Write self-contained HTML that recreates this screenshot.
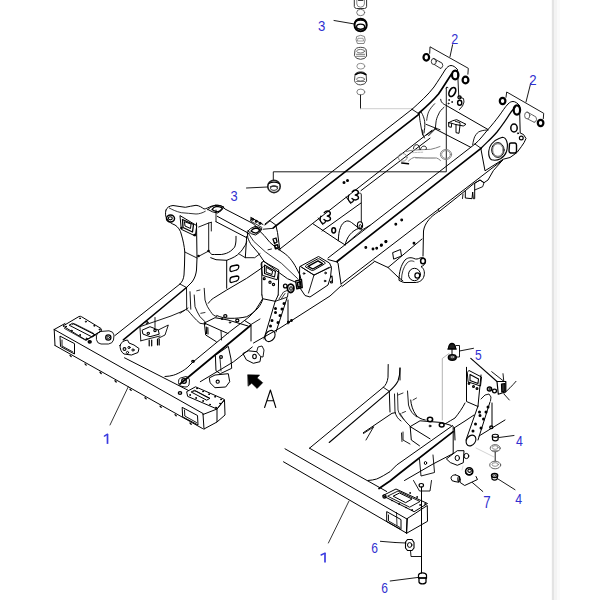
<!DOCTYPE html>
<html><head><meta charset="utf-8"><style>
html,body{margin:0;padding:0;background:#fff;width:600px;height:600px;overflow:hidden}
svg{display:block}
text{font-family:"Liberation Sans",sans-serif}
</style></head><body>
<svg width="600" height="600" viewBox="0 0 600 600" stroke-linecap="round" stroke-linejoin="round">
<rect x="0" y="0" width="600" height="600" fill="#fff"/>
<rect x="551.8" y="0" width="2.2" height="600" fill="#e3e3e3"/>
<rect x="554" y="0" width="3" height="600" fill="#f3f3f3"/>
<rect x="557" y="0" width="3" height="600" fill="#fafafa"/>
<path d="M354.3 0 L354.3 6.5 Q354.5 8.3 356.5 8.5 L364.5 8.5 Q366.6 8.3 366.6 6.5 L366.6 0" stroke="#333" stroke-width="1.0" fill="none" />
<path d="M356.8 0 L356.8 4 Q357 7 360.6 7.2 Q364.2 7 364.4 4 L364.4 0" stroke="#666" stroke-width="0.8" fill="none" />
<path d="M358.5 0 L362.8 0" stroke="#000" stroke-width="1.4" fill="none" />
<ellipse cx="360.7" cy="12.5" rx="4.0" ry="3.2" stroke="#555" stroke-width="0.8" fill="none"/>
<ellipse cx="360.6" cy="25" rx="6.1" ry="6.3" stroke="#000" stroke-width="2.0" fill="none"/>
<ellipse cx="360.6" cy="26.8" rx="4.0" ry="2.6" stroke="#000" stroke-width="1.2" fill="none"/>
<path d="M355.5 21.5 Q360.6 18.7 365.7 21.5" stroke="#000" stroke-width="1.2" fill="none" />
<path d="M356.5 28 Q360.6 30.5 364.7 28" stroke="#000" stroke-width="0.8" fill="none" />
<path d="M334 20.5 L354.5 24" stroke="#000" stroke-width="0.9" fill="none" />
<path d="M357 36.5 L360.7 35.3 L364.4 36.5 L365.2 40 L364 43.5 L357.4 43.5 L356.2 40 Z" stroke="#666" stroke-width="0.8" fill="none" />
<path d="M358.3 38.3 L363 38.3 L363.6 41 L357.8 41 Z" stroke="#777" stroke-width="0.7" fill="none" />
<path d="M355 50 Q355.5 47.5 360.6 47.3 Q365.7 47.5 366.2 50 L366.6 56 Q365.5 59.2 360.6 59.3 Q355.7 59.2 354.6 56 Z" stroke="#444" stroke-width="1.0" fill="none" />
<ellipse cx="360.6" cy="51.2" rx="4.0" ry="1.8" stroke="#555" stroke-width="0.8" fill="none"/>
<path d="M356.5 54.3 L364.7 54.3 M356.5 56.3 L364.7 56.3" stroke="#555" stroke-width="0.8" fill="none" />
<ellipse cx="360.8" cy="66.2" rx="4.0" ry="2.9" stroke="#777" stroke-width="0.8" fill="none"/>
<path d="M355 75 Q355.5 72 360.6 71.8 Q365.7 72 366.2 75 L366.6 81 Q365.5 84.8 360.6 84.9 Q355.7 84.8 354.6 81 Z" stroke="#444" stroke-width="1.0" fill="none" />
<path d="M355.5 74.5 Q360.6 71 365.7 74.5" stroke="#000" stroke-width="1.6" fill="none" />
<ellipse cx="360.6" cy="79.2" rx="4.0" ry="1.8" stroke="#555" stroke-width="0.8" fill="none"/>
<path d="M356.5 81.5 L364.7 81.5" stroke="#555" stroke-width="0.8" fill="none" />
<ellipse cx="360.8" cy="92" rx="4.0" ry="2.9" stroke="#666" stroke-width="0.8" fill="none"/>
<path d="M360.5 95 L360.5 108.7" stroke="#000" stroke-width="0.9" fill="none" />
<path d="M360.5 108.7 L413 108.7" stroke="#c8c8c8" stroke-width="0.9" fill="none" />
<path d="M452.6 44.7 L450 56.7" stroke="#000" stroke-width="0.9" fill="none" />
<path d="M429.7 53.3 L430 46.8 L468.3 68.3 L467.9 74.2" stroke="#000" stroke-width="0.9" fill="none" />
<ellipse cx="426.3" cy="57.3" rx="2.8" ry="3.3" stroke="#000" stroke-width="2.2" fill="none"/>
<path d="M433.3 58.5 L439.8 61.8 M434.3 64.5 L440.5 68.4" stroke="#222" stroke-width="0.9" fill="none" />
<ellipse cx="433.8" cy="61.5" rx="2.5" ry="3.0" stroke="#222" stroke-width="0.9" fill="none"/>
<path d="M439.8 61.8 Q443 62.5 442.8 65.5 Q442.3 68.5 440.5 68.4" stroke="#222" stroke-width="0.9" fill="none" />
<ellipse cx="455.2" cy="75" rx="3.2" ry="4.4" stroke="#000" stroke-width="2.2" fill="none"/>
<ellipse cx="465.5" cy="80" rx="2.9" ry="3.4" stroke="#000" stroke-width="2.2" fill="none"/>
<ellipse cx="452.3" cy="92" rx="2.9" ry="4.8" transform="rotate(28 452.3 92)" stroke="#000" stroke-width="1.7" fill="none"/>
<path d="M530.7 83.3 L526 102" stroke="#000" stroke-width="0.9" fill="none" />
<path d="M506 97.3 L506.7 92 L543.7 113.3 L543.3 118.7" stroke="#000" stroke-width="0.9" fill="none" />
<ellipse cx="502.6" cy="101" rx="2.8" ry="3.2" stroke="#000" stroke-width="2.2" fill="none"/>
<ellipse cx="540.6" cy="123" rx="2.8" ry="3.2" stroke="#000" stroke-width="2.2" fill="none"/>
<path d="M527 112 L533.5 115.5 M527.8 119 L534.2 122.3" stroke="#555" stroke-width="0.9" fill="none" />
<ellipse cx="527.2" cy="115.5" rx="2.6" ry="3.4" stroke="#555" stroke-width="0.9" fill="none"/>
<path d="M533.5 115.5 Q536.8 116.3 536.6 119.3 Q536.2 122.5 534.2 122.3" stroke="#555" stroke-width="0.9" fill="none" />
<ellipse cx="516.9" cy="110" rx="3.2" ry="4.6" stroke="#000" stroke-width="2.2" fill="none"/>
<ellipse cx="514" cy="128" rx="3.2" ry="4.0" stroke="#000" stroke-width="1.5" fill="none"/>
<ellipse cx="521.3" cy="138" rx="1.9" ry="1.9" stroke="#000" stroke-width="1.2" fill="none"/>
<ellipse cx="518" cy="133.3" rx="0.6" ry="0.6" stroke="#000" stroke-width="1.0" fill="none"/>
<path d="M509.5 144 Q509.5 143 511 143 L515 143 Q516.5 143.5 516.5 145 L516.5 151.5 Q516 153 514.5 153 L510.5 153 Q509 152.5 509 151 Z" stroke="#000" stroke-width="1.4" fill="none" />
<path d="M488.7 151.5 C489 148 490 146 491.5 144 C493.5 141.5 496 139.5 499 138.5 L502.5 137.3 C504.5 137.5 506 139 506.8 141.5 C507.8 144.5 507.5 148 506.5 151.5 C505.5 154.5 503.5 157 500.5 158.8 C497.5 160.3 494 160.5 491.5 159.8 C489.5 158.5 488.5 155.5 488.7 151.5 Z" stroke="#000" stroke-width="1.1" fill="none" />
<ellipse cx="497.9" cy="150" rx="6.2" ry="7.4" stroke="#000" stroke-width="1.0" fill="none"/>
<ellipse cx="497.9" cy="150" rx="5.2" ry="6.3" stroke="#444" stroke-width="0.7" fill="none"/>
<path d="M265 224.0 L412 109.3" stroke="#000" stroke-width="1.0" fill="none" />
<path d="M273.3 227.8 L418.5 114.6" stroke="#000" stroke-width="1.7" fill="none" />
<path d="M412 109.3 L418.5 113.5" stroke="#000" stroke-width="0.9" fill="none" />
<path d="M279 249.7 L432 130.3" stroke="#000" stroke-width="1.0" fill="none" />
<path d="M361 190.6 L430 138.2" stroke="#000" stroke-width="1.0" fill="none" />
<path d="M165 376.5 C168 376.3 171 376 173.5 375.2 C176.5 374.3 180 372.5 182.5 371 C185 369.5 187 368 188 367 L193 362 L220 339.7 L230 331.5 L244.5 320.5" stroke="#000" stroke-width="1.0" fill="none" />
<ellipse cx="193" cy="361.3" rx="1.3" ry="1.0" stroke="#000" stroke-width="1.2" fill="none"/>
<path d="M328 258 L475 144" stroke="#000" stroke-width="1.0" fill="none" />
<path d="M180 384 L250.5 325.5" stroke="#000" stroke-width="1.7" fill="none" />
<path d="M337 261.5 L481 148.3" stroke="#000" stroke-width="1.7" fill="none" />
<path d="M475 144 L481 148.3" stroke="#000" stroke-width="0.9" fill="none" />
<path d="M200.3 381.7 L233.7 361.7 L252.3 347" stroke="#000" stroke-width="1.0" fill="none" />
<path d="M341 284 L502.7 160" stroke="#000" stroke-width="1.0" fill="none" />
<path d="M253.5 343 L280 328 L330 296 L341.5 285.5" stroke="#000" stroke-width="1.0" fill="none" />
<path d="M374 261 L388 267.5 L422 239" stroke="#000" stroke-width="1.0" fill="none" />
<path d="M342 286.5 L374 262" stroke="#000" stroke-width="1.0" fill="none" />
<path d="M412 109.3 C420 102 428 95 434 87 C438 81 442 75 445 70 C447 67 449 65.5 451 65.5 C453 65.5 455.5 67 457 69" stroke="#000" stroke-width="1.0" fill="none" />
<path d="M418.5 113.5 C426 107 433 100.5 438.5 94 C443 87.5 447 81 451.5 74" stroke="#000" stroke-width="1.7" fill="none" />
<path d="M419.3 113.7 C419.5 117 419.8 120 420.3 122.5 C421 127 421.8 131 422.7 135" stroke="#000" stroke-width="0.9" fill="none" />
<path d="M421.3 112.3 C423 115 424.3 118.5 424.7 121.7 C425 125.5 424.7 129.5 424 133" stroke="#000" stroke-width="0.9" fill="none" />
<path d="M434.7 103.7 C432 106.5 430 109 428.7 111.7 C427.5 114.5 427 117.5 426.7 120.3" stroke="#000" stroke-width="0.8" fill="none" />
<path d="M426 124.3 C429 125.5 432.5 127 436 128.3 L440 129.7" stroke="#000" stroke-width="0.9" fill="none" />
<path d="M426.7 135 L436 128.3" stroke="#000" stroke-width="0.9" fill="none" />
<path d="M457.5 69.5 L458.8 97 L463.5 98.5 L464 102 L462.5 106 L459.5 109.5" stroke="#000" stroke-width="0.9" fill="none" />
<ellipse cx="459.5" cy="97.3" rx="1.6" ry="1.5" stroke="#000" stroke-width="1.3" fill="none"/>
<ellipse cx="459.7" cy="102.7" rx="2.1" ry="2.5" stroke="#000" stroke-width="1.4" fill="none"/>
<ellipse cx="449" cy="100" rx="0.5" ry="0.5" stroke="#000" stroke-width="0.8" fill="none"/>
<ellipse cx="452" cy="102" rx="0.5" ry="0.5" stroke="#000" stroke-width="0.8" fill="none"/>
<ellipse cx="448.5" cy="103.5" rx="0.5" ry="0.5" stroke="#000" stroke-width="0.8" fill="none"/>
<path d="M446 88 Q446.5 86 448 87.5" stroke="#000" stroke-width="0.9" fill="none" />
<path d="M446.3 88 L446.3 171.8 L273.3 171.8 L273.3 180" stroke="#000" stroke-width="0.9" fill="none" />
<path d="M440.7 99.3 C440.8 101.5 442 103.5 446 105.3 L488 129.5" stroke="#000" stroke-width="1.0" fill="none" />
<path d="M434.7 128.7 L470.7 147.3" stroke="#000" stroke-width="1.0" fill="none" />
<path d="M444 107.3 C441.5 109.5 439.5 111.5 438.7 114 C437 117 436.2 120 436 122 L435.3 128.7" stroke="#000" stroke-width="0.9" fill="none" />
<path d="M472.7 144.7 C473.2 141 474 138.5 474.7 136.7 C476.5 133.5 478 132 480 131.3 C483 130.3 485.5 130 488 130" stroke="#000" stroke-width="0.9" fill="none" />
<path d="M448.7 122.7 L452.7 120.7 L456.7 119.7 L466 124.3 L463.3 126 L460 125.3" stroke="#000" stroke-width="1.0" fill="none" />
<path d="M448.7 122.7 L448.7 126.7 L451.3 127.3 L451.7 123.3 L448.7 122.7" stroke="#000" stroke-width="1.0" fill="none" />
<path d="M451.7 123.3 L456 124.6" stroke="#000" stroke-width="0.9" fill="none" />
<path d="M456 124.6 L456 132.7 L459 133.3 L460 125.3 L456 124.6" stroke="#000" stroke-width="1.0" fill="none" />
<path d="M455.3 121.3 L460 122.7 L460 125.3" stroke="#000" stroke-width="0.9" fill="none" />
<path d="M481 148.3 C486 143 492 138 497 132 C502 125.5 506 120 509 115 C511.5 111 513 109.5 515 107.5" stroke="#000" stroke-width="1.3" fill="none" />
<path d="M475 144 C480 140 484 134 488 129.5 C492 125 496 120 499 116 C502 112 505 107 508 104 C510 102 511.5 101.5 513 101.5 C515 101.5 517.5 103 519.5 105.5" stroke="#000" stroke-width="1.0" fill="none" />
<path d="M519.5 105.8 L520.2 133 L523.5 134.5 L526 138.5 L524 142.7 L521.3 146.7 L517 152.5 L510 157.5 L503.3 159.2 L485 170.8 L480.8 148.3" stroke="#000" stroke-width="1.0" fill="none" />
<path d="M166 210 C165 213 165.5 217 167 219 C169 222 172 224 175 225 C178 227 180.5 230 181.5 235 C183 240 184.3 246 184.8 252 L184.5 265 L184 275 C183.5 279 182.5 281.5 180 284" stroke="#000" stroke-width="1.0" fill="none" />
<path d="M166 210 C167 207.5 169 206 173 205.5 C177 205.8 181 207 185.3 207.3 C189 207 192 205.5 196 205.3 C199 205.5 202 207.5 204 209 C206 209 209 207 212 206 L217.3 205.3 C220 205.3 222.5 206 225 209 L253 223.5 L260 230" stroke="#000" stroke-width="1.0" fill="none" />
<path d="M169.3 208 C172 209.5 176 211.5 181.3 212.7 C186 213.3 191 213.3 196 214 C199 214 202.5 213 205.3 211.3" stroke="#000" stroke-width="0.8" fill="none" />
<ellipse cx="170.5" cy="218.5" rx="4.0" ry="3.5" stroke="#000" stroke-width="1.5" fill="none"/>
<ellipse cx="170.3" cy="218.3" rx="2.0" ry="1.6" stroke="#000" stroke-width="1.1" fill="none"/>
<path d="M180 216 L181.3 229.3 L195.3 236 L196.7 226 Z" stroke="#000" stroke-width="1.0" fill="none" />
<path d="M182.5 219.5 L183 227.5 L192.5 232 L193.5 224.5 Z" stroke="#000" stroke-width="1.3" fill="none" />
<path d="M184.5 222 L185 226 L190.5 228.5 L191 224.5 Z" stroke="#000" stroke-width="1.0" fill="none" />
<ellipse cx="181.5" cy="228" rx="0.7" ry="0.7" stroke="#000" stroke-width="1.2" fill="none"/>
<ellipse cx="194.5" cy="235" rx="0.7" ry="0.7" stroke="#000" stroke-width="1.2" fill="none"/>
<path d="M196.5 223 L197 258 L196.5 270 C196 274 195 278 192 282 L186.5 287.5" stroke="#000" stroke-width="1.0" fill="none" />
<path d="M184.8 252 L197 258" stroke="#000" stroke-width="0.9" fill="none" />
<path d="M198.7 227 L208.7 223 L211.3 222.3" stroke="#000" stroke-width="0.9" fill="none" />
<path d="M208.7 223 L208.7 251 M211.3 222.3 L211.3 231" stroke="#000" stroke-width="0.9" fill="none" />
<path d="M198.7 256.3 L208.7 251" stroke="#000" stroke-width="0.9" fill="none" />
<ellipse cx="208.5" cy="251" rx="0.7" ry="0.7" stroke="#000" stroke-width="1.2" fill="none"/>
<ellipse cx="198.5" cy="256" rx="0.7" ry="0.7" stroke="#000" stroke-width="1.2" fill="none"/>
<path d="M207.8 209.5 Q210 207 215.4 205 Q220 205 224 207 Q222 211 217.5 213 Q212.5 212.5 207.8 209.5 Z" stroke="#000" stroke-width="1.0" fill="none" />
<path d="M212 209.5 Q213.5 207 216.5 206.3 Q220 206.5 222.5 208 Q221 210.5 218 211.8 Q214.5 211.3 212 209.5 Z" stroke="#000" stroke-width="1.3" fill="none" />
<path d="M248 231 Q250 228 255 226.5 Q259 226.7 262 229 Q260 233 255.5 235 Q251 234.5 248 231 Z" stroke="#000" stroke-width="1.0" fill="none" />
<path d="M251 231 Q252.5 228.8 255.5 228 Q258.5 228.2 260.3 229.7 Q259 232 256 233.2 Q253 232.8 251 231 Z" stroke="#000" stroke-width="1.3" fill="none" />
<path d="M216 210 L216 221.7" stroke="#000" stroke-width="0.9" fill="none" />
<path d="M217.3 216.3 L249.3 233.7" stroke="#000" stroke-width="1.0" fill="none" />
<path d="M216 221.7 L246.7 237.7" stroke="#000" stroke-width="1.0" fill="none" />
<path d="M208.7 251 C209.5 252.5 211 254 212 254.5 L214.7 254.5 L221.3 254.5 C225 254 228 253 230.7 251 C232.5 249.5 234 248 234.7 247 C235.7 244.5 236 241.5 236 239 L236 236.3" stroke="#000" stroke-width="1.0" fill="none" />
<path d="M210.7 257.7 L216 259.7 L226.7 260.3 C230 259 234 257.5 237.3 255 C240 252.5 242.5 250 244 247 C245.5 245 246.2 243.5 246.7 241.7" stroke="#000" stroke-width="1.0" fill="none" />
<path d="M226.7 260.3 L226.7 288.3" stroke="#000" stroke-width="1.0" fill="none" />
<path d="M246.7 236.3 L245.3 257.7" stroke="#000" stroke-width="1.0" fill="none" />
<path d="M238.7 253.7 L245.3 257.7 L254.7 257.7 L260 253.7" stroke="#000" stroke-width="0.9" fill="none" />
<path d="M230 268.5 Q230 266.5 232 266 L237 265 Q239 265 238.8 267 Q238.5 269.5 236.5 270 L231.5 271.5 Q229.8 271.5 230 269.5 Z" stroke="#000" stroke-width="1.3" fill="none" />
<path d="M230 279.5 Q230 277.5 232 277 L237 276 Q239 276 238.8 278 Q238.5 280.5 236.5 281 L231.5 282.5 Q229.8 282.5 230 280.5 Z" stroke="#000" stroke-width="1.3" fill="none" />
<path d="M247.3 232 L247.8 237.8 C248.8 240.5 250 243 251.3 244.8 L258.3 253 L263 260 C265.5 262.5 267.5 264.3 270 265.8 L279.3 272.8 L287.5 278.7 L295.7 282.2" stroke="#000" stroke-width="1.0" fill="none" />
<path d="M258.3 229.7 L264.2 235.5 L270 242.5 L277 248.3 L284 253 C286.5 255 288.5 256.5 290 258.5 C292.5 261.5 294.5 264.5 296 267.5 L300 275 L301 280" stroke="#000" stroke-width="1.0" fill="none" />
<path d="M248.5 233.5 L253.7 241.3 L265.3 251.8 L281.7 263.5 L297.5 278.5" stroke="#000" stroke-width="0.8" fill="none" />
<path d="M268 249.8 L271.5 249" stroke="#000" stroke-width="0.9" fill="none" />
<path d="M295.7 280.8 L301.5 279.5 L302.3 287.5 L296.8 288.8 Z" stroke="#000" stroke-width="1.3" fill="none" />
<path d="M297.5 282.5 L300.5 281.8 L301 286.5 L298 287.2 Z" stroke="#000" stroke-width="1.5" fill="none" />
<ellipse cx="290.7" cy="288.3" rx="3.2" ry="4.2" stroke="#000" stroke-width="1.8" fill="none"/>
<ellipse cx="291" cy="288.5" rx="1.3" ry="1.8" stroke="#000" stroke-width="1.1" fill="none"/>
<ellipse cx="285.3" cy="286" rx="1.8" ry="1.9" stroke="#000" stroke-width="1.3" fill="none"/>
<path d="M261.8 262.3 L261.8 295" stroke="#000" stroke-width="1.0" fill="none" />
<path d="M278.8 271.7 L278.2 295" stroke="#000" stroke-width="1.0" fill="none" />
<path d="M261.3 263.5 L263 261.2 L278.8 270 L277.2 279.8 L262.8 275.5 Z" stroke="#000" stroke-width="1.0" fill="none" />
<path d="M264.5 265 L275.5 271.5 L274.5 277 L264.5 273.5 Z" stroke="#000" stroke-width="1.1" fill="none" />
<path d="M266.5 267.5 L272.5 271 L272 274.5 L266.5 272.5 Z" stroke="#000" stroke-width="1.0" fill="none" />
<ellipse cx="264.2" cy="278.7" rx="1.0" ry="1.0" stroke="#000" stroke-width="1.2" fill="none"/>
<ellipse cx="270" cy="282.2" rx="1.1" ry="1.1" stroke="#000" stroke-width="1.2" fill="none"/>
<ellipse cx="273.5" cy="284.5" rx="1.1" ry="1.1" stroke="#000" stroke-width="1.2" fill="none"/>
<path d="M270 220.8 L275.8 225 L277.5 232.5 L279.2 245 L280 250" stroke="#000" stroke-width="1.0" fill="none" />
<path d="M265 225 L270 220.8" stroke="#000" stroke-width="1.0" fill="none" />
<path d="M263.3 229.2 L273.3 228.3 L275.8 225" stroke="#000" stroke-width="0.9" fill="none" />
<path d="M273 239 L276 238 L277 242 L274.5 243.5 Z" stroke="#000" stroke-width="1.3" fill="none" />
<path d="M274.5 245.5 L277.5 244.8 L278.3 248 L275.5 248.8 Z" stroke="#000" stroke-width="1.5" fill="none" />
<path d="M54.2 329.5 L203 413.5" stroke="#000" stroke-width="1.0" fill="none" />
<path d="M55 345.5 L202.5 428.5" stroke="#000" stroke-width="1.0" fill="none" />
<path d="M54.2 329.5 L55 345.5" stroke="#000" stroke-width="1.0" fill="none" />
<path d="M54.2 329.5 L65 323.5" stroke="#000" stroke-width="1.0" fill="none" />
<path d="M124.5 357.8 L188.5 390.5" stroke="#000" stroke-width="1.0" fill="none" />
<path d="M203 414.5 L217 409 L217 422 L204 429" stroke="#000" stroke-width="1.0" fill="none" />
<path d="M203 413.8 L204 429" stroke="#000" stroke-width="1.0" fill="none" />
<path d="M217 409 L224.5 400 L225 415 L217 422" stroke="#000" stroke-width="1.0" fill="none" />
<path d="M60 336.5 L60.5 346.5 L74.5 354 L74.5 344 Z" stroke="#000" stroke-width="1.0" fill="none" />
<path d="M62 340 L62 346 L73 352" stroke="#000" stroke-width="0.9" fill="none" />
<path d="M182.5 407.5 L197.5 415.5 L198 425 L183 417 Z" stroke="#000" stroke-width="1.0" fill="none" />
<path d="M184.5 410 L184.8 416 L196.5 422.5" stroke="#000" stroke-width="0.9" fill="none" />
<path d="M63.3 325.8 L79 316.5 Q80.5 316 81.5 316.7 L101 328.5 Q102 330 101 331 L87 339.5 Q86 340 85 339.5 Z" stroke="#000" stroke-width="1.0" fill="none" />
<path d="M69.5 325 L72.5 323.3 L95.5 335 L92.5 336.8 Z" stroke="#000" stroke-width="1.0" fill="none" />
<path d="M72 324.7 Q73 323 75 324 L93.5 333.3 Q94.5 334.5 93 335.5" stroke="#000" stroke-width="0.8" fill="none" />
<ellipse cx="80" cy="318.3" rx="0.5" ry="0.5" stroke="#000" stroke-width="1.0" fill="none"/>
<ellipse cx="85.8" cy="321.7" rx="0.5" ry="0.5" stroke="#000" stroke-width="1.0" fill="none"/>
<ellipse cx="94.2" cy="325.8" rx="0.5" ry="0.5" stroke="#000" stroke-width="1.0" fill="none"/>
<ellipse cx="99.5" cy="329.5" rx="0.5" ry="0.5" stroke="#000" stroke-width="1.0" fill="none"/>
<ellipse cx="71.7" cy="330.8" rx="0.5" ry="0.5" stroke="#000" stroke-width="1.0" fill="none"/>
<ellipse cx="80" cy="335" rx="0.5" ry="0.5" stroke="#000" stroke-width="1.0" fill="none"/>
<ellipse cx="86.7" cy="338.5" rx="0.5" ry="0.5" stroke="#000" stroke-width="1.0" fill="none"/>
<ellipse cx="66" cy="326.5" rx="0.5" ry="0.5" stroke="#000" stroke-width="1.0" fill="none"/>
<path d="M96.5 335.5 Q97 332.5 100 331.5 L109 330.8 Q113.5 331.5 114 335 L113.5 340 Q112.5 343.5 108.5 344 L101 344 Q97 343.5 96.5 340 Z" stroke="#000" stroke-width="0.9" fill="none" />
<ellipse cx="108.3" cy="337.5" rx="2.6" ry="2.6" stroke="#000" stroke-width="1.3" fill="none"/>
<ellipse cx="108.3" cy="337.5" rx="1.2" ry="1.2" stroke="#000" stroke-width="0.9" fill="none"/>
<ellipse cx="89.7" cy="341.8" rx="1.5" ry="1.2" stroke="#000" stroke-width="1.4" fill="#222"/>
<path d="M64.5 328.5 L86 340.5 L101.5 331" stroke="#000" stroke-width="0.8" fill="none" />
<path d="M187 391.5 L195.5 386.8 L224.5 399.5 L217 409 L188 396.5 Z" stroke="#000" stroke-width="1.0" fill="none" />
<path d="M191.5 391.8 L194.5 390.3 L210 398.3 L207 400 Z" stroke="#000" stroke-width="1.0" fill="none" />
<path d="M193.5 391.5 Q194.5 390.5 196 391.3 L208 397.8" stroke="#000" stroke-width="0.8" fill="none" />
<ellipse cx="197" cy="388.5" rx="0.5" ry="0.5" stroke="#000" stroke-width="1.0" fill="none"/>
<ellipse cx="203" cy="391.5" rx="0.5" ry="0.5" stroke="#000" stroke-width="1.0" fill="none"/>
<ellipse cx="209" cy="394.2" rx="0.5" ry="0.5" stroke="#000" stroke-width="1.0" fill="none"/>
<ellipse cx="215" cy="396.8" rx="0.5" ry="0.5" stroke="#000" stroke-width="1.0" fill="none"/>
<ellipse cx="221" cy="399.5" rx="0.5" ry="0.5" stroke="#000" stroke-width="1.0" fill="none"/>
<ellipse cx="220" cy="403.5" rx="0.5" ry="0.5" stroke="#000" stroke-width="1.0" fill="none"/>
<ellipse cx="216" cy="407.5" rx="0.5" ry="0.5" stroke="#000" stroke-width="1.0" fill="none"/>
<ellipse cx="210" cy="404.5" rx="0.5" ry="0.5" stroke="#000" stroke-width="1.0" fill="none"/>
<ellipse cx="203" cy="401" rx="0.5" ry="0.5" stroke="#000" stroke-width="1.0" fill="none"/>
<ellipse cx="196" cy="398" rx="0.5" ry="0.5" stroke="#000" stroke-width="1.0" fill="none"/>
<ellipse cx="190" cy="395" rx="0.5" ry="0.5" stroke="#000" stroke-width="1.0" fill="none"/>
<ellipse cx="180" cy="393" rx="1.6" ry="1.4" stroke="#000" stroke-width="1.4" fill="none"/>
<path d="M178.5 381.5 Q178 379 180.5 378 L186 376.5 Q189 377 189.5 380 L189 385 Q187.5 387.5 185 387 L180.5 386 Q178.5 385 178.5 383 Z" stroke="#000" stroke-width="0.9" fill="none" />
<ellipse cx="184" cy="381" rx="2.3" ry="2.3" stroke="#000" stroke-width="1.3" fill="none"/>
<path d="M70 355.4 L71.2 356.6" stroke="#000" stroke-width="1.3" fill="none" />
<path d="M85 363.9 L86.2 365.1" stroke="#000" stroke-width="1.3" fill="none" />
<path d="M100 372.3 L101.2 373.5" stroke="#000" stroke-width="1.3" fill="none" />
<path d="M115 380.8 L116.2 382.0" stroke="#000" stroke-width="1.3" fill="none" />
<path d="M130 389.2 L131.2 390.4" stroke="#000" stroke-width="1.3" fill="none" />
<path d="M145 397.7 L146.2 398.9" stroke="#000" stroke-width="1.3" fill="none" />
<path d="M160 406.1 L161.2 407.3" stroke="#000" stroke-width="1.3" fill="none" />
<path d="M175 414.6 L176.2 415.8" stroke="#000" stroke-width="1.3" fill="none" />
<path d="M190 423.0 L191.2 424.2" stroke="#000" stroke-width="1.3" fill="none" />
<path d="M110 425 L128.3 386.7" stroke="#000" stroke-width="0.8" fill="none" />
<path d="M115 335.5 L180 284" stroke="#000" stroke-width="1.0" fill="none" />
<path d="M123.3 339.8 L186.5 287.5" stroke="#000" stroke-width="1.5" fill="none" />
<path d="M180 284 L186.5 287.5 L186.7 310" stroke="#000" stroke-width="0.9" fill="none" />
<path d="M140.5 326.5 L171 316 L184.7 310.3" stroke="#000" stroke-width="0.9" fill="none" />
<path d="M140 327.5 L140.8 340.8 M155 317.5 L155 327.5" stroke="#000" stroke-width="0.9" fill="none" />
<path d="M142.5 330 L150 326.7 L158.3 330 L159.2 334.2 L150 336.7 L143.3 334.2 Z" stroke="#000" stroke-width="1.0" fill="none" />
<ellipse cx="148.3" cy="333.3" rx="1.2" ry="1.1" stroke="#000" stroke-width="1.1" fill="none"/>
<ellipse cx="155" cy="330.5" rx="1.2" ry="1.1" stroke="#000" stroke-width="1.1" fill="none"/>
<ellipse cx="147" cy="322.5" rx="1.0" ry="1.3" stroke="#000" stroke-width="1.0" fill="none"/>
<path d="M158.3 330 L168.3 325 L165 335 L158.3 338.3" stroke="#000" stroke-width="0.9" fill="none" />
<path d="M140.8 340.8 L160 336" stroke="#000" stroke-width="0.9" fill="none" />
<path d="M149.2 340 L149.2 345.8 M151.7 340 L151.7 345.8 M157.5 339.2 L157.5 345 M159.2 339.2 L159.2 345" stroke="#000" stroke-width="1.2" fill="none" />
<path d="M120 345.5 C121 342 124 340.5 127.5 340 L129 343 L134 345 L139 348.5 L138 352.5 L131.5 355 L124 354 C121 352 120 349 120 345.5 Z" stroke="#000" stroke-width="1.0" fill="none" />
<ellipse cx="124.5" cy="349" rx="1.4" ry="1.4" stroke="#000" stroke-width="1.1" fill="none"/>
<ellipse cx="129" cy="347.5" rx="1.1" ry="1.1" stroke="#000" stroke-width="1.0" fill="none"/>
<ellipse cx="127.5" cy="352.5" rx="1.1" ry="1.1" stroke="#000" stroke-width="1.0" fill="none"/>
<ellipse cx="133" cy="350" rx="1.1" ry="1.1" stroke="#000" stroke-width="1.0" fill="none"/>
<text transform="translate(321.75 30.50) scale(0.86 1)" text-anchor="middle" font-size="15.36" fill="#3030d0">3</text>
<text transform="translate(454.75 44.00) scale(0.86 1)" text-anchor="middle" font-size="14.64" fill="#3030d0">2</text>
<text transform="translate(532.88 84.75) scale(0.86 1)" text-anchor="middle" font-size="15.36" fill="#3030d0">2</text>
<text transform="translate(234.10 200.50) scale(0.86 1)" text-anchor="middle" font-size="15.00" fill="#3030d0">3</text>
<path d="M107.5 434.1 L107.5 443.9" stroke="#3a3ae0" stroke-width="1.7" fill="none" stroke-linecap="butt"/>
<path d="M104.4 436.1 L107.5 434.2" stroke="#3a3ae0" stroke-width="1.4" fill="none" />
<text transform="translate(478.35 359.80) scale(0.86 1)" text-anchor="middle" font-size="14.00" fill="#3030d0">5</text>
<text transform="translate(519.50 445.50) scale(0.86 1)" text-anchor="middle" font-size="14.29" fill="#3030d0">4</text>
<text transform="translate(486.90 507.70) scale(0.86 1)" text-anchor="middle" font-size="15.57" fill="#3030d0">7</text>
<text transform="translate(518.60 504.20) scale(0.86 1)" text-anchor="middle" font-size="14.29" fill="#3030d0">4</text>
<path d="M325.0 553.0 L325.0 562.5" stroke="#3a3ae0" stroke-width="1.7" fill="none" stroke-linecap="butt"/>
<path d="M321.1 555.0 L325.0 553.1" stroke="#3a3ae0" stroke-width="1.4" fill="none" />
<text transform="translate(374.50 552.80) scale(0.86 1)" text-anchor="middle" font-size="14.00" fill="#3030d0">6</text>
<text transform="translate(384.50 592.80) scale(0.86 1)" text-anchor="middle" font-size="14.00" fill="#3030d0">6</text>
<path d="M285 448.8 L407.3 519.2" stroke="#000" stroke-width="1.0" fill="none" />
<path d="M283.5 461.8 L406.7 533.2" stroke="#000" stroke-width="1.0" fill="none" />
<path d="M309.5 448.2 L386.7 491.5" stroke="#000" stroke-width="1.0" fill="none" />
<path d="M407.3 518.5 L427.3 505.5 L427.5 521.3 L406.7 533.2 Z" stroke="#000" stroke-width="1.0" fill="none" />
<path d="M407.3 518.5 L406.7 533.2" stroke="#000" stroke-width="1.0" fill="none" />
<path d="M386.7 512 L386.7 521.5 L401 529.5 L401 520 Z" stroke="#000" stroke-width="1.0" fill="none" />
<path d="M388.5 515 L388.5 521 L400 527.5" stroke="#000" stroke-width="0.9" fill="none" />
<path d="M396.5 512.5 L397 525.5" stroke="#000" stroke-width="0.8" fill="none" />
<path d="M383 495.5 L396 489 L427.5 503.5 L414.5 511.5 Z" stroke="#000" stroke-width="1.0" fill="none" />
<path d="M388 496 L398 491 L420 501.5 L410 507 Z" stroke="#000" stroke-width="0.9" fill="none" />
<path d="M393.5 496 L399.5 493 L412 499 L406 502.5 Z" stroke="#000" stroke-width="1.0" fill="none" />
<ellipse cx="385" cy="497" rx="0.5" ry="0.5" stroke="#000" stroke-width="0.9" fill="none"/>
<ellipse cx="392" cy="500.5" rx="0.5" ry="0.5" stroke="#000" stroke-width="0.9" fill="none"/>
<ellipse cx="399" cy="504" rx="0.5" ry="0.5" stroke="#000" stroke-width="0.9" fill="none"/>
<ellipse cx="406" cy="507.5" rx="0.5" ry="0.5" stroke="#000" stroke-width="0.9" fill="none"/>
<ellipse cx="412" cy="510" rx="0.5" ry="0.5" stroke="#000" stroke-width="0.9" fill="none"/>
<ellipse cx="420" cy="505" rx="0.5" ry="0.5" stroke="#000" stroke-width="0.9" fill="none"/>
<ellipse cx="425" cy="504" rx="0.5" ry="0.5" stroke="#000" stroke-width="0.9" fill="none"/>
<ellipse cx="410" cy="493" rx="0.5" ry="0.5" stroke="#000" stroke-width="0.9" fill="none"/>
<ellipse cx="417" cy="497" rx="0.5" ry="0.5" stroke="#000" stroke-width="0.9" fill="none"/>
<ellipse cx="384.5" cy="496.5" rx="1.6" ry="1.6" stroke="#000" stroke-width="1.2" fill="none"/>
<path d="M349 501 L328.4 543" stroke="#000" stroke-width="0.8" fill="none" />
<path d="M309.5 448.2 L383.3 387.3 C385.5 385.5 387.5 382 388 377.3 L388.2 364.5" stroke="#000" stroke-width="1.0" fill="none" />
<path d="M329.2 442.5 L389.3 391.3 C392.5 388.5 396 385 398 381 C399.5 377 400 372 400 368" stroke="#000" stroke-width="1.1" fill="none" />
<path d="M383.3 387.3 L389.3 391.3" stroke="#000" stroke-width="0.9" fill="none" />
<path d="M389.3 391.3 L390 412" stroke="#000" stroke-width="1.0" fill="none" />
<path d="M363.3 432.7 L392 413.3 L395.3 412.7" stroke="#000" stroke-width="1.0" fill="none" />
<path d="M373.5 427 L363.5 433.5 M373.5 427 L366 440" stroke="#000" stroke-width="0.9" fill="none" />
<path d="M400 368 L400 380" stroke="#000" stroke-width="1.0" fill="none" />
<path d="M394.5 394 L395 412 C396 416 398 419 401 421" stroke="#000" stroke-width="0.9" fill="none" />
<path d="M397.5 393 L398 410 C399 414 401 417 404 419.5" stroke="#000" stroke-width="0.8" fill="none" />
<path d="M407.5 391 L408.5 405 C410 411 413 414.5 417 417" stroke="#000" stroke-width="0.9" fill="none" />
<path d="M398 395 L403 393" stroke="#000" stroke-width="0.8" fill="none" />
<path d="M402 413 L405.5 411.5" stroke="#000" stroke-width="0.8" fill="none" />
<path d="M413 400 L416.5 398" stroke="#000" stroke-width="0.8" fill="none" />
<path d="M410.2 426.6 L420 420.8 L441.7 422.5 L451 425.4" stroke="#000" stroke-width="1.0" fill="none" />
<path d="M410.2 426.6 L430 438.8" stroke="#000" stroke-width="1.0" fill="none" />
<path d="M410.2 426.6 L411.3 440 L419.5 445.8" stroke="#000" stroke-width="1.0" fill="none" />
<ellipse cx="430" cy="419.5" rx="2.6" ry="2.2" stroke="#000" stroke-width="1.6" fill="none"/>
<ellipse cx="441.7" cy="425" rx="2.4" ry="2.0" stroke="#000" stroke-width="1.5" fill="none"/>
<ellipse cx="430" cy="426" rx="0.9" ry="0.9" stroke="#000" stroke-width="1.0" fill="none"/>
<path d="M403 432 L403 440 L410 444" stroke="#000" stroke-width="0.9" fill="none" />
<path d="M401.5 433 L402 441.5" stroke="#000" stroke-width="0.9" fill="none" />
<path d="M368 480.5 C371 480.3 374 479.8 376.7 479 C379 478 381 477 383.3 475.7 L390 471.7 L396.7 465 L452.5 425.7" stroke="#000" stroke-width="1.0" fill="none" />
<path d="M379 488.5 L390 481 L400 473 L453.2 431.7" stroke="#000" stroke-width="1.7" fill="none" />
<path d="M452.5 425.7 L453.2 426.5 L453.2 453.5" stroke="#000" stroke-width="1.0" fill="none" />
<path d="M404.5 480.5 L433 464 L453.2 453.5" stroke="#000" stroke-width="1.0" fill="none" />
<path d="M419.5 459.5 L421 476 L434.5 472.5 L433 455" stroke="#000" stroke-width="0.9" fill="none" />
<path d="M413.5 480.5 L419.5 491 L430 491 L431.5 480.5" stroke="#000" stroke-width="0.9" fill="none" />
<ellipse cx="425.5" cy="463" rx="1.2" ry="1.5" stroke="#000" stroke-width="1.0" fill="none"/>
<path d="M446.7 458.7 L457.3 450.7 L464 450.7 L463.3 462.7 L457.3 465.3 L450.7 462.7 Z" stroke="#000" stroke-width="1.0" fill="none" />
<ellipse cx="457.3" cy="458" rx="2.2" ry="2.6" stroke="#000" stroke-width="1.0" fill="none"/>
<ellipse cx="466.4" cy="456" rx="2.4" ry="2.6" stroke="#000" stroke-width="1.0" fill="none"/>
<path d="M410.7 400 C411 405 413 411 416 415 C418 417.5 421.5 419.5 425.3 420" stroke="#000" stroke-width="1.0" fill="none" />
<path d="M400 413.3 C402 417 404.5 420.5 407 423 L410.7 426.7" stroke="#000" stroke-width="0.9" fill="none" />
<path d="M466.5 367.3 L466.5 401.5 L478 406.5" stroke="#000" stroke-width="1.0" fill="none" />
<path d="M481 375 L478 406" stroke="#000" stroke-width="1.0" fill="none" />
<path d="M467.5 372 L469 370.5 L481.5 377 L480.5 386 L468.5 382 Z" stroke="#000" stroke-width="1.0" fill="none" />
<path d="M470 374.5 L478.5 379 L478 383.5 L470 380.5 Z" stroke="#000" stroke-width="1.1" fill="none" />
<ellipse cx="469" cy="383.5" rx="0.8" ry="0.8" stroke="#000" stroke-width="1.2" fill="none"/>
<ellipse cx="473.5" cy="386.5" rx="0.9" ry="0.9" stroke="#000" stroke-width="1.2" fill="none"/>
<ellipse cx="477" cy="388.5" rx="0.9" ry="0.9" stroke="#000" stroke-width="1.2" fill="none"/>
<path d="M478 406 L466 440" stroke="#000" stroke-width="1.0" fill="none" />
<path d="M490 402 L478 440" stroke="#000" stroke-width="1.0" fill="none" />
<ellipse cx="479.5" cy="412" rx="0.8" ry="0.8" stroke="#000" stroke-width="1.4" fill="none"/>
<ellipse cx="480" cy="415.5" rx="0.8" ry="0.8" stroke="#000" stroke-width="1.4" fill="none"/>
<ellipse cx="475.5" cy="424" rx="0.8" ry="0.8" stroke="#000" stroke-width="1.4" fill="none"/>
<ellipse cx="488" cy="407" rx="0.8" ry="0.8" stroke="#000" stroke-width="1.4" fill="none"/>
<ellipse cx="486" cy="412" rx="0.8" ry="0.8" stroke="#000" stroke-width="1.4" fill="none"/>
<ellipse cx="483.5" cy="419" rx="0.8" ry="0.8" stroke="#000" stroke-width="1.4" fill="none"/>
<ellipse cx="473" cy="431" rx="0.8" ry="0.8" stroke="#000" stroke-width="1.4" fill="none"/>
<ellipse cx="481" cy="428" rx="0.8" ry="0.8" stroke="#000" stroke-width="1.4" fill="none"/>
<path d="M481 399 L485 395 L489 394 L491 397 L490.5 401" stroke="#000" stroke-width="0.9" fill="none" />
<path d="M492 403 L492 426" stroke="#000" stroke-width="1.0" fill="none" />
<path d="M479 436 L505 420" stroke="#000" stroke-width="1.0" fill="none" />
<path d="M445 424 C449 421.5 452.5 419.5 455 418 C459 413 462.5 408 465 403" stroke="#000" stroke-width="1.0" fill="none" />
<path d="M454 428 L465 421 L474 415" stroke="#000" stroke-width="1.0" fill="none" />
<path d="M454.5 428 L455 440" stroke="#000" stroke-width="1.0" fill="none" />
<ellipse cx="471" cy="440.5" rx="4.4" ry="5.8" transform="rotate(35 471 440.5)" stroke="#000" stroke-width="1.1" fill="none"/>
<path d="M449 353.5 L442.3 358.5 L442.3 420" stroke="#aaa" stroke-width="0.9" fill="none" />
<ellipse cx="491.3" cy="427.3" rx="1.6" ry="1.3" stroke="#000" stroke-width="1.3" fill="none"/>
<path d="M470.8 358.3 L497 381.5" stroke="#000" stroke-width="1.1" fill="none" />
<path d="M491.7 371.7 L503.5 381 M503 373.7 L503.7 380.5" stroke="#000" stroke-width="0.9" fill="none" />
<path d="M497 381.5 L505.8 381.5 L505.8 391.7 L498.3 394.2 Z" stroke="#000" stroke-width="1.2" fill="none" />
<path d="M501.5 384 L505 383.5 L505 391 L501.8 392 Z" stroke="#000" stroke-width="1.2"  fill="#333"/>
<ellipse cx="489.5" cy="389" rx="2.2" ry="2.0" stroke="#000" stroke-width="1.3" fill="none"/>
<ellipse cx="494.5" cy="391" rx="2.0" ry="1.8" stroke="#000" stroke-width="1.3" fill="none"/>
<ellipse cx="489.5" cy="389" rx="0.8" ry="0.7" stroke="#000" stroke-width="0.8" fill="none"/>
<path d="M504 393.3 C508 390 512 386 516 381.3" stroke="#000" stroke-width="0.9" fill="none" />
<path d="M504 394 L509.3 400" stroke="#000" stroke-width="0.9" fill="none" />
<path d="M448.3 349 L448.8 346.5 Q449.5 343.5 452 343.3 Q454.5 343.5 455.3 346.5 L455.8 349 Z" stroke="#000" stroke-width="1.2"  fill="#222"/>
<path d="M447.8 349 L456.3 349" stroke="#000" stroke-width="1.2" fill="none" />
<path d="M452 349 L452 354.5" stroke="#000" stroke-width="1.0" fill="none" />
<ellipse cx="452.3" cy="357.5" rx="4.0" ry="2.8" stroke="#000" stroke-width="1.3" fill="#222"/>
<ellipse cx="452.3" cy="357" rx="1.5" ry="0.8" stroke="#fff" stroke-width="0.6" fill="none"/>
<path d="M456 345.5 L459.5 345.5 L459.5 357 L456.5 357" stroke="#000" stroke-width="0.9" fill="none" />
<path d="M459.5 351 L473.5 348.3" stroke="#000" stroke-width="0.9" fill="none" />
<ellipse cx="495.3" cy="435.8" rx="3.0" ry="1.6" stroke="#000" stroke-width="1.1" fill="none"/>
<path d="M492.3 436 L492.6 439.8 Q495.3 442 498 439.8 L498.3 436" stroke="#000" stroke-width="1.2" fill="none" />
<path d="M499 437.5 L514 435.5" stroke="#000" stroke-width="0.9" fill="none" />
<ellipse cx="495.2" cy="448.2" rx="5.0" ry="3.6" stroke="#555" stroke-width="0.9" fill="none"/>
<ellipse cx="495.2" cy="447.5" rx="3.0" ry="1.8" stroke="#777" stroke-width="0.8" fill="none"/>
<path d="M491.5 450.5 L499 450.5" stroke="#777" stroke-width="0.7" fill="none" />
<path d="M495.2 452 L495.2 461" stroke="#000" stroke-width="0.9" fill="none" />
<ellipse cx="495.2" cy="465" rx="5.5" ry="3.8" stroke="#555" stroke-width="0.9" fill="none"/>
<ellipse cx="495.2" cy="464.5" rx="3.2" ry="1.8" stroke="#777" stroke-width="0.8" fill="none"/>
<path d="M476 448 L494 457" stroke="#c8c8c8" stroke-width="0.8" fill="none" />
<ellipse cx="494.6" cy="475.5" rx="3.0" ry="2.0" stroke="#000" stroke-width="1.6" fill="none"/>
<path d="M491.7 476 L492 479 Q494.6 481.3 497.2 479 L497.5 476" stroke="#000" stroke-width="1.2" fill="none" />
<ellipse cx="494.6" cy="475.3" rx="1.3" ry="0.8" stroke="#333" stroke-width="0.8" fill="none"/>
<path d="M497.7 478.8 L515 489.7" stroke="#000" stroke-width="0.9" fill="none" />
<path d="M459.5 476.5 L460.2 482.5 L464.7 485.5 L477.5 479.5 L476 476.5" stroke="#000" stroke-width="1.0" fill="none" />
<path d="M472.3 482.5 L482.8 491.5" stroke="#000" stroke-width="0.9" fill="none" />
<path d="M455.5 474.8 L459.5 476.5 L458.5 482.2 L454.5 481.5" stroke="#000" stroke-width="1.0" fill="none" />
<path d="M455.5 474.8 Q451 475 451 478.3 Q451.2 481.5 454.5 481.5" stroke="#000" stroke-width="1.0" fill="none" />
<ellipse cx="458.9" cy="479.3" rx="1.2" ry="2.9" stroke="#000" stroke-width="0.9" fill="none"/>
<ellipse cx="469.2" cy="471.3" rx="3.6" ry="3.6" stroke="#000" stroke-width="1.6" fill="none"/>
<ellipse cx="469.6" cy="470.8" rx="1.8" ry="1.6" stroke="#000" stroke-width="1.1" fill="none"/>
<path d="M465.8 473 Q469.2 476.5 472.6 473" stroke="#000" stroke-width="1.2" fill="none" />
<path d="M463 466 L462 470" stroke="#c8c8c8" stroke-width="0.7" fill="none" />
<path d="M421.5 487 L421.5 573" stroke="#000" stroke-width="1.0" fill="none" />
<ellipse cx="421.3" cy="485.3" rx="2.2" ry="1.8" stroke="#000" stroke-width="1.2" fill="none"/>
<path d="M395 542.5 L406 543" stroke="#000" stroke-width="0.9" fill="none" />
<path d="M380.4 541.3 L395 542.5" stroke="#000" stroke-width="0.9" fill="none" />
<path d="M405.5 542 L407.5 539.5 L412 539.5 L414 542.5 L414 548 L412 550.5 L407.5 550.5 L405.5 548 Z" stroke="#000" stroke-width="1.1" fill="none" />
<ellipse cx="409.7" cy="545" rx="2.2" ry="2.4" stroke="#000" stroke-width="1.0" fill="none"/>
<path d="M410.5 550.5 L411 556.5 L421.5 556.5" stroke="#000" stroke-width="0.9" fill="none" />
<path d="M418.5 578 L418.5 575 Q419 572.8 422.5 572.8 Q426 572.8 426.5 575 L426.5 578 Z" stroke="#000" stroke-width="1.2" fill="none" />
<path d="M419 578 L419 582 Q419.5 583.8 422.5 583.8 Q425.5 583.8 426 582 L426 578" stroke="#000" stroke-width="1.3" fill="none" />
<path d="M418.5 578 L426.5 578" stroke="#000" stroke-width="1.3" fill="none" />
<path d="M390.2 581 L418.3 577.4" stroke="#000" stroke-width="0.9" fill="none" />
<path d="M300 266.5 L318.5 256.5 L329.5 263 L331.5 267.5 L330.5 277 L328 285 L310 297 L305 295.5 L300 288 L299.5 281 Z" stroke="#000" stroke-width="1.0" fill="none" />
<path d="M300.5 266.5 L314 275 L331 267" stroke="#000" stroke-width="1.0" fill="none" />
<path d="M314 275 L308.5 293" stroke="#000" stroke-width="0.9" fill="none" />
<path d="M305.5 266.5 Q305.5 265.5 306.5 265 L317.5 259 Q318.5 258.5 319.5 259 L325 262.5 Q325.5 263.5 324.5 264 L313.5 270.3 Q312.5 270.8 311.5 270.3 Z" stroke="#000" stroke-width="1.0" fill="none" />
<path d="M308 266.3 L318 260.8 L322.5 263.6 L312.8 269 Z" stroke="#000" stroke-width="1.4" fill="none" />
<path d="M302 267.5 L314 275.2 L329 267.3" stroke="#000" stroke-width="0.8" fill="none" />
<path d="M328 259.5 L337 262 L338 263 L341 284" stroke="#000" stroke-width="1.0" fill="none" />
<ellipse cx="304" cy="273.5" rx="0.8" ry="0.8" stroke="#000" stroke-width="1.0" fill="none"/>
<ellipse cx="325.5" cy="273" rx="0.8" ry="0.8" stroke="#000" stroke-width="1.0" fill="none"/>
<ellipse cx="325" cy="281" rx="0.8" ry="0.8" stroke="#000" stroke-width="1.0" fill="none"/>
<ellipse cx="331.5" cy="282" rx="1" ry="1" stroke="#000" stroke-width="1.2" fill="none"/>
<path d="M330.5 277 L332 276 L332.5 281" stroke="#000" stroke-width="1.1" fill="none" />
<path d="M244.5 320.5 L251 324.5 L251 341" stroke="#000" stroke-width="1.0" fill="none" />
<path d="M251 324.5 L260 319" stroke="#000" stroke-width="0.9" fill="none" />
<path d="M204.3 323 L215 317.7 L228 320 L248 326" stroke="#000" stroke-width="1.0" fill="none" />
<path d="M204.3 323 L221 330.5 L228 333.5" stroke="#000" stroke-width="1.0" fill="none" />
<path d="M204.3 323 L205.7 335 L216.3 341.7" stroke="#000" stroke-width="1.0" fill="none" />
<path d="M221 330.5 L221.5 340" stroke="#000" stroke-width="0.9" fill="none" />
<ellipse cx="225.3" cy="316" rx="1.6" ry="1.4" stroke="#000" stroke-width="1.2" fill="none"/>
<ellipse cx="237.3" cy="320.5" rx="1.6" ry="1.4" stroke="#000" stroke-width="1.2" fill="none"/>
<ellipse cx="222" cy="319" rx="0.7" ry="0.7" stroke="#000" stroke-width="1.0" fill="none"/>
<ellipse cx="230" cy="322.5" rx="0.7" ry="0.7" stroke="#000" stroke-width="1.0" fill="none"/>
<path d="M206.3 327 L206.5 333.5 M207.8 327.5 L208 334" stroke="#000" stroke-width="1.1" fill="none" />
<path d="M187.5 310 C189.5 312.5 191.5 314.5 193.3 316.7 C195.5 319 197.5 321.5 200 323.3 L205.8 324.2" stroke="#000" stroke-width="0.9" fill="none" />
<path d="M190 291.7 L190.8 309.2" stroke="#000" stroke-width="0.9" fill="none" />
<path d="M194.2 295 L195 306.7 C196.5 310.5 198 313.5 200 316.7 L205 321.7" stroke="#000" stroke-width="0.9" fill="none" />
<path d="M204.2 288.3 L205 300 C205.8 302.5 206.5 304.5 207.5 306.7 C209.5 310 211.5 313 213.3 315 L216.7 316.7" stroke="#000" stroke-width="0.9" fill="none" />
<path d="M196.7 290.8 L200 290 M200.8 313.3 L205 312.5" stroke="#000" stroke-width="0.8" fill="none" />
<path d="M208.3 303.3 C210 301 211.5 299.5 213.3 298.3 L226.7 290 L246.7 278.3 L260 269.2 L263.3 266.7" stroke="#000" stroke-width="1.0" fill="none" />
<path d="M216.7 315.5 C221 317.5 225.5 318.3 230 318.3 C236 318.5 242 317.8 246.7 316.7 C251 314.5 255 311.5 258 308 C260.5 305 262 302 262.7 299.3" stroke="#000" stroke-width="1.0" fill="none" />
<path d="M180 313.3 L188 308" stroke="#000" stroke-width="0.9" fill="none" />
<path d="M215.7 355 L228.3 346.3 L231 359 L231.7 368.3 L220.3 373.7 L216.3 371 Z" stroke="#000" stroke-width="1.0" fill="none" />
<path d="M220 358 L221 371" stroke="#000" stroke-width="0.8" fill="none" />
<ellipse cx="221" cy="357" rx="1.4" ry="1.4" stroke="#000" stroke-width="1.2" fill="none"/>
<path d="M209.7 377.7 L215 375 L228.3 373.7 L229.7 381.7 L225.7 387 L215 387.7 L210.3 383 Z" stroke="#000" stroke-width="1.0" fill="none" />
<ellipse cx="217.7" cy="381.7" rx="1.6" ry="1.6" stroke="#000" stroke-width="1.1" fill="none"/>
<path d="M243.3 353.3 L248.3 350.8 L256.7 351.7 L260.8 356.7 L260 361.7 L253.3 363.3 L246.7 360 Z" stroke="#000" stroke-width="1.0" fill="none" />
<ellipse cx="254.5" cy="356.5" rx="1.8" ry="2.2" stroke="#000" stroke-width="1.1" fill="none"/>
<path d="M256.7 351.7 L258 347 L262 346 L264 350 L263 357 L260.8 356.7" stroke="#000" stroke-width="0.9" fill="none" />
<path d="M247.9 374.8 L259.6 375 L257.1 377.9 L262.7 382.7 L257.1 388.5 L251.7 383.2 L248.3 386 Z" stroke="#000" stroke-width="0.6"  fill="#000"/>
<path d="M264.6 407.5 L270.4 390 L275.8 407.5 M266.9 400.8 L273.9 400.8" stroke="#000" stroke-width="1.1" fill="none" />
<path d="M322 231 L361 203" stroke="#000" stroke-width="1.0" fill="none" />
<path d="M313.3 224 L338.3 240.7 L345.3 245" stroke="#000" stroke-width="1.0" fill="none" />
<path d="M338.3 240.7 C338.5 235 339 231 340.5 227.5 C341.5 224.5 343.5 222 346.7 221 C348.5 220.7 350 221.5 351.5 222.5 L358 227.5" stroke="#000" stroke-width="1.0" fill="none" />
<path d="M345.3 244.5 C346 241 347.5 237.5 350 234.5 C352.5 231.5 355.5 229.5 358.5 228.5 C359.5 228.3 360.5 228.7 361.3 229.3" stroke="#000" stroke-width="1.0" fill="none" />
<path d="M345.3 244.5 L362 230 L370 225.3" stroke="#000" stroke-width="0.9" fill="none" />
<ellipse cx="360" cy="225.3" rx="2.6" ry="3.6" stroke="#000" stroke-width="1.1" fill="none"/>
<ellipse cx="360.3" cy="226.3" rx="1.2" ry="1.8" stroke="#000" stroke-width="0.9" fill="none"/>
<path d="M358.5 193.5 Q361.3 192 361.3 195 L361.3 221.7" stroke="#000" stroke-width="0.9" fill="none" />
<ellipse cx="333.7" cy="230.3" rx="1.9" ry="2.6" stroke="#000" stroke-width="1.5" fill="none"/>
<path d="M324.30 212.62 Q327.00 209.52 330.11 212.22 Q331.05 215.32 327.40 216.00 Q331.32 216.81 330.24 219.78 Q327.00 222.48 324.03 219.51" stroke="#000" stroke-width="1.5" fill="none" />
<path d="M320.93 216.00 Q318.90 220.72 322.27 223.16 Q324.98 224.10 325.65 220.72" stroke="#000" stroke-width="1.2" fill="none" />
<path d="M318.23 218.03 L322.95 224.78" stroke="#000" stroke-width="1.0" fill="none" />
<path d="M352.30 191.62 Q355.00 188.52 358.11 191.22 Q359.05 194.32 355.40 195.00 Q359.32 195.81 358.24 198.78 Q355.00 201.48 352.03 198.51" stroke="#000" stroke-width="1.5" fill="none" />
<path d="M348.93 195.00 Q346.90 199.72 350.27 202.16 Q352.98 203.10 353.65 199.72" stroke="#000" stroke-width="1.2" fill="none" />
<path d="M346.23 197.03 L350.95 203.78" stroke="#000" stroke-width="1.0" fill="none" />
<ellipse cx="344" cy="182.5" rx="0.8" ry="0.8" stroke="#000" stroke-width="1.4" fill="none"/>
<ellipse cx="347.5" cy="180.5" rx="0.8" ry="0.8" stroke="#000" stroke-width="1.4" fill="none"/>
<ellipse cx="446" cy="154.5" rx="5.6" ry="5.0" stroke="#808080" stroke-width="1.0" fill="none"/>
<ellipse cx="446" cy="154.5" rx="4.4" ry="3.9" stroke="#808080" stroke-width="0.8" fill="none"/>
<ellipse cx="402.8" cy="157.4" rx="4.3" ry="3.8" stroke="#808080" stroke-width="0.9" fill="none"/>
<path d="M406.5 151.5 C410 150.3 414 150 419.2 149.8 L430.8 149.3 C434 148.8 437 147.5 440 146.5" stroke="#808080" stroke-width="1.0" fill="none" />
<path d="M408.5 161 C410.5 159 412.5 157.8 414.5 157.4 L425 158 L436.7 158 C438 158.5 439.5 159.5 440.5 160.5" stroke="#808080" stroke-width="1.0" fill="none" />
<path d="M412 152.7 L422.7 152.2 M415.7 158.2 L434.3 158.2" stroke="#aaa" stroke-width="0.8" fill="none" stroke-dasharray="2 1"/>
<path d="M401.7 163 L408.5 163.8" stroke="#000" stroke-width="1.4" fill="none" />
<path d="M413.5 148.5 C413.5 145.5 416 144 418 145 C419.5 146 419.8 148 419.3 149.5 M420.5 149.5 C421 146.5 423.5 145.5 425.5 146.5 C426.8 147.5 426.5 149 426 149.5" stroke="#000" stroke-width="0.9" fill="none" />
<path d="M422.7 130 C422.3 133 423 135.5 424.5 138" stroke="#000" stroke-width="0.9" fill="none" />
<path d="M428.5 135.8 L434.3 130" stroke="#000" stroke-width="0.9" fill="none" />
<path d="M438.3 211.7 C434 214.5 431 217 429 219.5 C426 223 424 227 423.5 231 L423 256" stroke="#000" stroke-width="1.0" fill="none" />
<path d="M438.5 209 L439 211.7 L465.3 190.7 L473.3 184 L480 180 L484 182.7 L488 180 L493.3 170.7 L502.7 160" stroke="#000" stroke-width="1.0" fill="none" />
<path d="M465.3 190.7 L465.3 198 L472 198.7 L472.7 192 L473.3 198.7 L474.7 198.7 L474.7 184" stroke="#000" stroke-width="1.0" fill="none" />
<path d="M474.7 183.3 L480 180 L484 182.7 L482.7 186.7 L474.7 190" stroke="#000" stroke-width="0.9" fill="none" />
<path d="M463 194 L462.5 198.5" stroke="#000" stroke-width="0.9" fill="none" />
<ellipse cx="381.5" cy="245" rx="0.8" ry="0.8" stroke="#000" stroke-width="1.3" fill="none"/>
<ellipse cx="386" cy="241.5" rx="0.8" ry="0.8" stroke="#000" stroke-width="1.3" fill="none"/>
<ellipse cx="395.8" cy="224.2" rx="0.8" ry="0.8" stroke="#000" stroke-width="1.3" fill="none"/>
<ellipse cx="401.7" cy="220" rx="0.8" ry="0.8" stroke="#000" stroke-width="1.3" fill="none"/>
<ellipse cx="414" cy="243.3" rx="0.8" ry="0.8" stroke="#000" stroke-width="1.3" fill="none"/>
<ellipse cx="373" cy="249" rx="0.8" ry="0.8" stroke="#000" stroke-width="1.3" fill="none"/>
<ellipse cx="376.7" cy="248.3" rx="0.8" ry="0.8" stroke="#000" stroke-width="1.3" fill="none"/>
<ellipse cx="365.8" cy="247.5" rx="0.8" ry="0.8" stroke="#000" stroke-width="1.3" fill="none"/>
<ellipse cx="381.2" cy="245.4" rx="0.8" ry="0.8" stroke="#000" stroke-width="1.3" fill="none"/>
<ellipse cx="385.8" cy="241.7" rx="0.8" ry="0.8" stroke="#000" stroke-width="1.3" fill="none"/>
<path d="M393 252.5 L400.5 249.5 L401.5 256 L394 259 Z" stroke="#000" stroke-width="1.0" fill="none" />
<path d="M388 267.5 L398 277 L403 281" stroke="#000" stroke-width="1.0" fill="none" />
<path d="M399 280 C399 272 401 265 405 260 C408 257 412 257.5 414 258.5 C416 259.5 418 259 420 258 C422.5 257 425 258 425.5 261 C425.5 264 423.5 266 421 266.5 C424 268.5 425 272 424 276 C423 280 419.5 282.5 415 282.5 L404 282.5 Z" stroke="#000" stroke-width="1.0" fill="none" />
<path d="M401.5 280 C401.5 273 403.5 267 407 263 C409.5 260.5 412 260.5 414 261.5" stroke="#000" stroke-width="0.8" fill="none" />
<ellipse cx="414.5" cy="274.5" rx="6.0" ry="6.2" stroke="#000" stroke-width="1.0" fill="none"/>
<ellipse cx="417.3" cy="275.5" rx="2.4" ry="2.6" stroke="#000" stroke-width="1.2" fill="none"/>
<ellipse cx="423" cy="261" rx="2.4" ry="2.8" stroke="#000" stroke-width="1.5" fill="none"/>
<ellipse cx="274" cy="186.4" rx="6.2" ry="6.2" stroke="#222" stroke-width="1.6" fill="none"/>
<ellipse cx="274" cy="188.2" rx="3.6" ry="2.2" stroke="#333" stroke-width="1.0" fill="none"/>
<path d="M268.8 183.5 Q274 180.8 279.2 183.5" stroke="#000" stroke-width="1.1" fill="none" />
<path d="M270.5 186.8 Q274 185.2 277.5 186.8" stroke="#333" stroke-width="1.4" fill="none" />
<path d="M246.5 188 L267.5 187" stroke="#000" stroke-width="0.9" fill="none" />
<path d="M262 295 L262.5 298.7 L275.3 301.3" stroke="#000" stroke-width="1.0" fill="none" />
<path d="M278.2 295 L275.3 301.3" stroke="#000" stroke-width="1.0" fill="none" />
<path d="M275 302 L264 339" stroke="#000" stroke-width="1.0" fill="none" />
<path d="M287 298 L276 332" stroke="#000" stroke-width="1.0" fill="none" />
<ellipse cx="275.5" cy="308.5" rx="0.8" ry="0.8" stroke="#000" stroke-width="1.4" fill="none"/>
<ellipse cx="275.5" cy="312.5" rx="0.8" ry="0.8" stroke="#000" stroke-width="1.4" fill="none"/>
<ellipse cx="272" cy="320.5" rx="0.8" ry="0.8" stroke="#000" stroke-width="1.4" fill="none"/>
<ellipse cx="284" cy="303.5" rx="0.8" ry="0.8" stroke="#000" stroke-width="1.4" fill="none"/>
<ellipse cx="282" cy="309" rx="0.8" ry="0.8" stroke="#000" stroke-width="1.4" fill="none"/>
<ellipse cx="280" cy="315.5" rx="0.8" ry="0.8" stroke="#000" stroke-width="1.4" fill="none"/>
<ellipse cx="270.5" cy="326" rx="0.8" ry="0.8" stroke="#000" stroke-width="1.4" fill="none"/>
<ellipse cx="278" cy="322.5" rx="0.8" ry="0.8" stroke="#000" stroke-width="1.4" fill="none"/>
<path d="M275.3 301.3 L287.5 297 L288 293" stroke="#000" stroke-width="0.9" fill="none" />
<path d="M279 299 L283.5 292 L287 290.5" stroke="#000" stroke-width="0.8" fill="none" />
<path d="M281.5 298.5 L285 293.5" stroke="#000" stroke-width="0.8" fill="none" />
<path d="M288 300 L288 324" stroke="#000" stroke-width="1.0" fill="none" />
<ellipse cx="270" cy="336" rx="4.6" ry="6" transform="rotate(35 270 336)" stroke="#000" stroke-width="1.1" fill="none"/>
<path d="M244.5 320.5 C246.5 319 248.5 317.5 250 316 L255.5 310 C257.5 307 260 303 262.5 299" stroke="#000" stroke-width="1.0" fill="none" />
<ellipse cx="288.5" cy="322" rx="0.9" ry="0.9" stroke="#000" stroke-width="1.3" fill="none"/>
<ellipse cx="291.5" cy="320.5" rx="0.8" ry="0.8" stroke="#000" stroke-width="1.2" fill="none"/>
<path d="M251 217.5 L263 224.5" stroke="#000" stroke-width="1.0" fill="none" />
<ellipse cx="252.5" cy="219.3" rx="0.9" ry="0.9" stroke="#000" stroke-width="1.3" fill="none"/>
<ellipse cx="256.3" cy="221.3" rx="0.9" ry="0.9" stroke="#000" stroke-width="1.3" fill="none"/>
<ellipse cx="260" cy="223.3" rx="0.9" ry="0.9" stroke="#000" stroke-width="1.3" fill="none"/>
<path d="M251 217.5 L250.5 221 L262 227.5" stroke="#000" stroke-width="0.8" fill="none" />
</svg>
</body></html>
